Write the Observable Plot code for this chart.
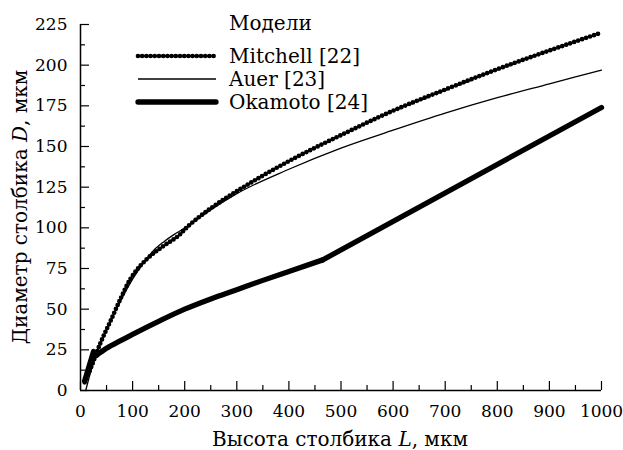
<!DOCTYPE html>
<html><head><meta charset="utf-8">
<script src="https://cdn.jsdelivr.net/npm/d3@7"></script>
<script src="https://cdn.jsdelivr.net/npm/@observablehq/plot@0.6"></script>
<style>body{margin:0;background:#fff} #chart{width:623px;height:450px}</style>
</head><body><div id="chart"></div><script>
// Data
const mitchellL = [8, 20, 38, 58, 77, 96, 103, 128, 160, 192, 200, 208, 250, 300, 400, 500, 600, 700, 800, 900, 1000];
const mitchellD = [5, 14, 29, 43, 56.5, 68.7, 72, 81, 89, 96.3, 99, 101.4, 112, 122.5, 141, 157, 172, 185, 197.5, 209, 220];
const auerL = [10, 20, 38, 60, 80, 100, 120, 140, 160, 180, 200, 220, 250, 300, 400, 500, 600, 700, 800, 900, 1000];
const auerD = [0, 12, 29, 44, 57, 68.5, 78, 86, 91.5, 96, 99.8, 104.3, 111, 121, 136, 149, 160, 170.5, 180, 188.5, 197];
const okamotoL = [8, 25, 30, 50, 77, 100, 150, 200, 250, 300, 350, 400, 465, 1000];
const okamotoD = [6, 24, 21.5, 26, 30.7, 34.5, 42.5, 50, 56.3, 62, 67.7, 73.2, 80.3, 174];
const okamotoBreaks = [30, 465]; // L where the Okamoto model changes branch
const xTicks = [0, 100, 200, 300, 400, 500, 600, 700, 800, 900, 1000];
const xMinor = [50, 150, 250, 350, 450, 550, 650, 750, 850, 950];
const yTicks = [0, 25, 50, 75, 100, 125, 150, 175, 200, 225];
const yMinor = [12.5, 37.5, 62.5, 87.5, 112.5, 137.5, 162.5, 187.5, 212.5];
const seriesNames = ["Mitchell [22]", "Auer [23]", "Okamoto [24]"];
const legendTitle = "Модели";
const xTitle = ["Высота столбика ", "L", ", мкм"];
const yTitle = ["Диаметр столбика ", "D", ", мкм"];

const mitchell = mitchellL.map((L, i) => ({L, D: mitchellD[i]}));
const auer = auerL.map((L, i) => ({L, D: auerD[i]}));
const okamoto = okamotoL.map((L, i) => ({L, D: okamotoD[i]}));
const [b1, b2] = okamotoBreaks;
const okA = okamoto.filter(d => d.L <= b1);
const okB = okamoto.filter(d => d.L >= b1 && d.L <= b2);
const okC = okamoto.filter(d => d.L >= b2);

const font = "DejaVu Serif";
const styles = {
  mitchell: {stroke: "black", strokeWidth: 4.7, strokeDasharray: "0 4.2", strokeLinecap: "round"},
  auer: {stroke: "black", strokeWidth: 1.3},
  okamoto: {stroke: "black", strokeWidth: 5.3, strokeLinejoin: "round", strokeLinecap: "round"}
};

const plot = Plot.plot({
  width: 623, height: 450,
  marginLeft: 80, marginRight: 22, marginTop: 24, marginBottom: 60,
  style: {fontFamily: font, fontSize: "17px", background: "white", color: "black", overflow: "visible"},
  x: {domain: [0, 1000], axis: null},
  y: {domain: [0, 225], axis: null},
  marks: [
    Plot.axisX({ticks: xMinor, tickSize: -5, text: null, label: null, strokeWidth: 1.2}),
    Plot.axisX({ticks: xTicks, tickSize: -9, tickPadding: 23, label: null, strokeWidth: 1.2, fontSize: 17, tickFormat: d => String(d)}),
    Plot.axisY({ticks: yMinor, tickSize: -5, text: null, label: null, strokeWidth: 1.2}),
    Plot.axisY({ticks: yTicks, tickSize: -9, tickPadding: 22, label: null, strokeWidth: 1.2, fontSize: 17, tickFormat: d => String(d)}),
    Plot.ruleY([0], {strokeWidth: 1.5}),
    Plot.ruleX([0], {strokeWidth: 1.5}),
    Plot.line(auer, {x: "L", y: "D", curve: "monotone-x", ...styles.auer}),
    Plot.line(okA, {x: "L", y: "D", ...styles.okamoto}),
    Plot.line(okB, {x: "L", y: "D", curve: "monotone-x", ...styles.okamoto}),
    Plot.line(okC, {x: "L", y: "D", ...styles.okamoto}),
    Plot.line(mitchell, {x: "L", y: "D", curve: "monotone-x", ...styles.mitchell})
  ]
});
document.getElementById("chart").appendChild(plot);

const svg = d3.select(plot);
function title(parts, x, y, rotate) {
  const t = svg.append("text")
    .attr("font-family", font).attr("font-size", 20).attr("fill", "black")
    .attr("text-anchor", "middle")
    .attr("transform", `translate(${x},${y})` + (rotate ? " rotate(-90)" : ""));
  parts.forEach((p, i) => t.append("tspan").attr("font-style", i === 1 ? "italic" : null).text(p));
}
title(xTitle, 340, 446, false);
title(yTitle, 27, 207, true);

// Legend
const lg = svg.append("g").attr("font-family", font).attr("font-size", 20).attr("text-anchor", "start");
lg.append("text").attr("x", 229).attr("y", 30).text(legendTitle);
const ly = [56, 79, 102];
const lstyles = [styles.mitchell, styles.auer, styles.okamoto];
seriesNames.forEach((name, i) => {
  const s = lstyles[i];
  lg.append("line").attr("x1", 138).attr("x2", 216).attr("y1", ly[i]).attr("y2", ly[i])
    .attr("stroke", "black").attr("stroke-width", s.strokeWidth)
    .attr("stroke-dasharray", s.strokeDasharray || null)
    .attr("stroke-linecap", s.strokeLinecap || null);
  lg.append("text").attr("x", 229).attr("y", ly[i] + 7).text(name);
});
</script></body></html>
